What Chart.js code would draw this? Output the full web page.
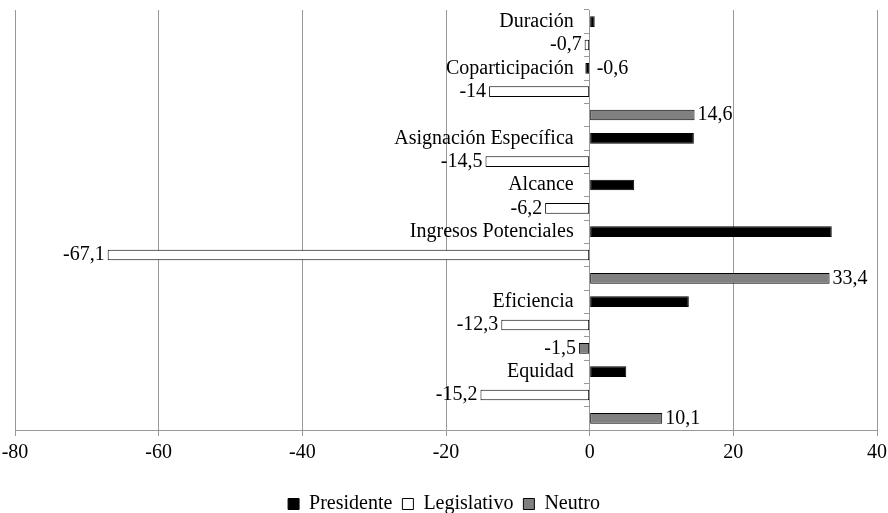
<!DOCTYPE html>
<html>
<head>
<meta charset="utf-8">
<script src="https://cdn.jsdelivr.net/npm/chart.js@4"></script>
<style>
body { margin: 0; background: #fff; }
#wrap { width: 888px; height: 513px; }
</style>
</head>
<body>
<div id="wrap"><canvas id="grafico"></canvas></div>
<script>
const categorias = ["Duración", "Coparticipación", "Asignación Específica", "Alcance", "Ingresos Potenciales", "Eficiencia", "Equidad"]
const presidente = [0.7, -0.6, 14.5, 6.2, 33.7, 13.8, 5.1]
const legislativo = [-0.7, -14, -14.5, -6.2, -67.1, -12.3, -15.2]
const neutro = [null, 14.6, null, null, 33.4, -1.5, 10.1]
const ticksX = [-80, -60, -40, -20, 0, 20, 40]

const series = [
  { label: "Presidente", valores: presidente, cor: "#000000" },
  { label: "Legislativo", valores: legislativo, cor: "#ffffff" },
  { label: "Neutro", valores: neutro, cor: "#808080" }
]

// one row per bar that exists, categories without a value take no row
const filas = []
categorias.forEach((cat, i) => {
  series.forEach((s, j) => {
    if (s.valores[i] !== null) filas.push({ cat: i, serie: j })
  })
})

const datasets = series.map((s, j) => ({
  label: s.label,
  data: filas.map(f => f.serie === j ? s.valores[f.cat] : null),
  backgroundColor: s.cor,
  borderColor: "#000000",
  borderWidth: 1,
  borderSkipped: false,
  grouped: false,
  barPercentage: 0.46,
  categoryPercentage: 1
}))

const fmt = v => String(v).replace(".", ",")
const fuente = '"Liberation Serif", "Times New Roman", serif'

const rotulos = {
  id: "rotulos",
  afterDatasetsDraw(chart) {
    const ctx = chart.ctx
    const x = chart.scales.x
    const cero = x.getPixelForValue(0)
    ctx.save()
    ctx.font = "20px " + fuente
    ctx.fillStyle = "#000"
    ctx.textBaseline = "middle"
    datasets.forEach((ds, j) => {
      const meta = chart.getDatasetMeta(j)
      ds.data.forEach((v, k) => {
        if (v === null) return
        const bar = meta.data[k]
        if (j === 0) {
          if (v < 0) {
            ctx.textAlign = "left"
            ctx.fillText(fmt(v), cero + 7, bar.y)
          }
          return
        }
        if (v < 0) {
          ctx.textAlign = "right"
          ctx.fillText(fmt(v), bar.x - 3, bar.y)
        } else {
          ctx.textAlign = "left"
          ctx.fillText(fmt(v), bar.x + 3, bar.y)
        }
      })
    })
    // category names sit next to the first bar of each group
    ctx.textAlign = "right"
    categorias.forEach((cat, i) => {
      const k = filas.findIndex(f => f.cat === i)
      const y = chart.scales.y.getPixelForValue(k)
      ctx.fillText(cat, cero - 16, y)
    })
    ctx.restore()
  }
}

const grafico = new Chart(document.getElementById("grafico").getContext("2d"), {
  type: "bar",
  data: {
    labels: filas.map((f, k) => String(k)),
    datasets: datasets
  },
  plugins: [rotulos],
  options: {
    indexAxis: "y",
    responsive: true,
    maintainAspectRatio: false,
    animation: false,
    layout: { padding: { left: 0, right: 0, top: 10, bottom: -11 } },
    plugins: {
      tooltip: { enabled: false },
      legend: {
        position: "bottom",
        labels: {
          color: "#000",
          font: { family: fuente, size: 20 },
          boxWidth: 11,
          boxHeight: 11,
          padding: 10
        }
      }
    },
    scales: {
      x: {
        min: -80,
        max: 40,
        afterBuildTicks: axis => { axis.ticks = ticksX.map(v => ({ value: v })) },
        afterFit: axis => {
          axis.height += 14
          axis.paddingLeft = 15
          axis.paddingRight = 11
        },
        ticks: {
          color: "#000",
          font: { family: fuente, size: 20 },
          padding: 5,
          callback: v => fmt(v)
        },
        grid: { color: "#999999", lineWidth: 1, tickLength: 6 },
        border: { color: "#999999" }
      },
      y: {
        type: "category",
        position: { x: 0 },
        offset: true,
        ticks: { display: false },
        grid: { drawOnChartArea: false, offset: true, tickLength: 5, color: "#999999" },
        border: { color: "#999999" }
      }
    }
  }
})
</script>
</body>
</html>
